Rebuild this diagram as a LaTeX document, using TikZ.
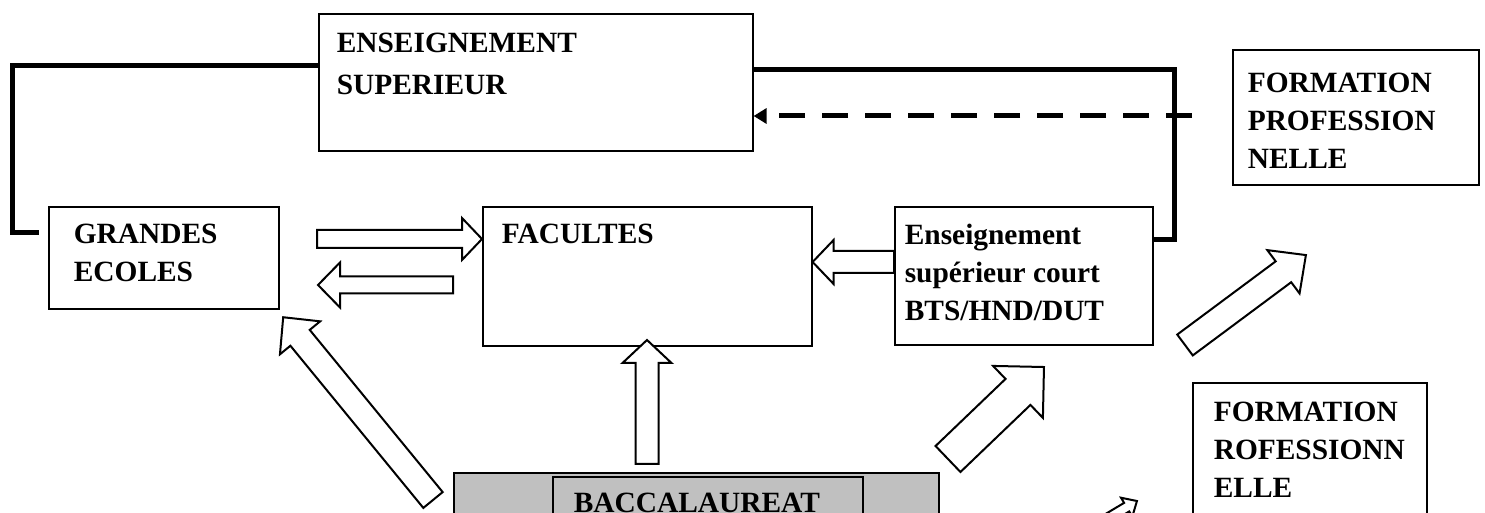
\documentclass[tikz,border=0pt]{standalone}
\usepackage{fontspec}
\setmainfont{Liberation Serif}
\usetikzlibrary{calc,arrows.meta}

\definecolor{gris}{RGB}{192,192,192}

\tikzset{
  cadre/.style={draw, line width=0.8pt, anchor=north west, inner sep=0pt,
    font=\bfseries\fontsize{14.7}{19}\selectfont},
  trait/.style={line width=2.5pt},
  tirets/.style={line width=2.5pt, dash pattern=on 13pt off 8.5pt,
    -{Triangle[length=6.5pt,width=7.5pt]}},
  fleche/.style={draw, fill=white, line width=1pt},
}

% texte en haut a gauche d'une boite de taille fixe
\newcommand{\texte}[3]{\parbox[b][#2][t]{#1}{\raggedright #3}}

% grosse fleche creuse : queue, pointe, demi-corps, demi-tete, longueur de tete
\newcommand{\grossefleche}[5]{%
  \path let \p1=($(#2)-(#1)$) in \pgfextra{%
    \pgfmathparse{atan2(\y1,\x1)}\xdef\flang{\pgfmathresult}%
    \pgfmathparse{2*veclen(\x1,\y1)}\xdef\fllong{\pgfmathresult}};
  \draw[fleche, shift={(#1)}, rotate=\flang, x=0.5pt, y=0.5pt]
    (0,-#3) -- ({\fllong-#5},-#3) -- ({\fllong-#5},-#4) -- (\fllong,0)
    -- ({\fllong-#5},#4) -- ({\fllong-#5},#3) -- (0,#3) -- cycle;
}

\begin{document}
\begin{tikzpicture}[x=0.5pt, y=-0.5pt]
    \useasboundingbox (0,0) rectangle (1485,513);
    \clip (0,0) rectangle (1485,513);

    % Boites
    \node[cadre, inner xsep=9pt, inner ysep=9.5pt] (ens) at (318,13)
      {\texte{199pt}{49.5pt}{\fontsize{14.7}{21}\selectfont ENSEIGNEMENT\\ SUPERIEUR}};
    \node[cadre, inner xsep=12.5pt, inner ysep=8.5pt] (gec) at (48,206)
      {\texte{90pt}{34pt}{GRANDES\\ ECOLES}};
    \node[cadre, inner xsep=9.5pt, inner ysep=8.5pt] (fac) at (482,206)
      {\texte{145.5pt}{52.5pt}{FACULTES}};
    \node[cadre, inner xsep=5pt, inner ysep=8.5pt] (esc) at (894,206)
      {\texte{119pt}{52pt}{Enseignement\\ supérieur court\\ BTS/HND/DUT}};
    \node[cadre, inner xsep=7.5pt, inner ysep=11.5pt] (fpn) at (1232,49)
      {\texte{108pt}{44.5pt}{FORMATION\\ PROFESSION\\ NELLE}};
    \node[cadre, inner xsep=10.5pt, inner ysep=9.5pt] (fpr) at (1192,382)
      {\texte{96pt}{71pt}{FORMATION\\ ROFESSIONN\\ ELLE}};
    \node[cadre, fill=gris, minimum width=242.5pt, minimum height=50pt] (bac) at (453,472) {};
    \node[cadre, fill=gris, inner xsep=10.5pt, inner ysep=8pt] (bacc) at (552,476)
      {\texte{134pt}{28pt}{BACCALAUREAT}};

    % Traits epais
    \draw[trait] (ens.west |- 0,66) -| (12,233) -- (39,233);
    \draw[trait] (ens.east |- 0,70) -| (1174,240) -- (esc.east |- 0,240);
    \draw[tirets] (1192,116) -- (ens.east |- 0,116);

    % Grosses fleches
    \grossefleche{317,239}{fac.west |- 0,239}{9}{21}{20}
    \grossefleche{453,285}{318,285}{8.5}{22.5}{22}
    \grossefleche{esc.west |- 0,262}{fac.east |- 0,262}{11}{22}{21}
    \grossefleche{647,464}{647,340}{11.5}{24.5}{23}
    \grossefleche{433,500}{283,317}{12.5}{26}{26.6}
    \grossefleche{948,459}{1044,367}{18}{36}{36}
    \grossefleche{1185,345}{1306,255}{13}{27}{28}
    \grossefleche{1080,535}{1137,501}{5}{11}{12}

\end{tikzpicture}
\end{document}
